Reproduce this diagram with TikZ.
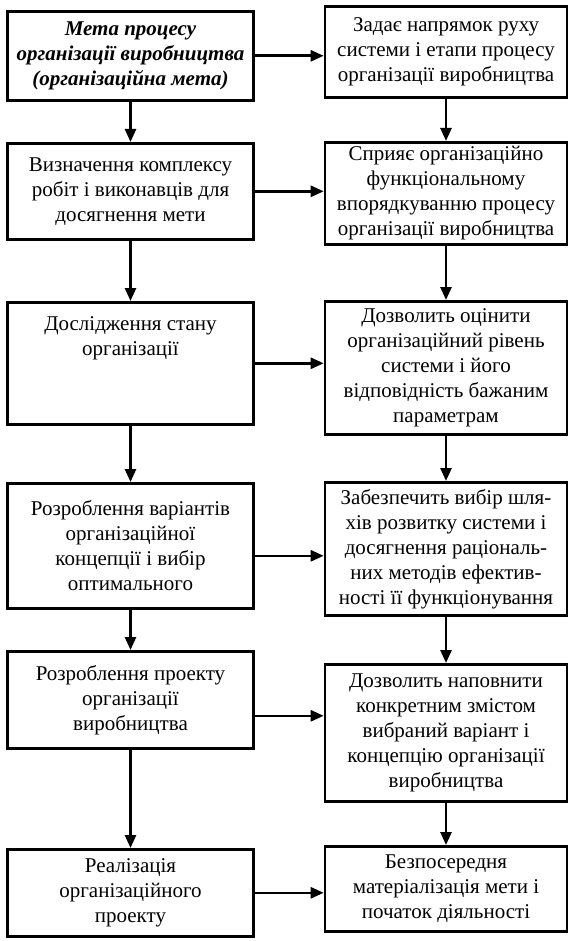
\documentclass[tikz,border=0pt]{standalone}
\usepackage{fontspec}
\setmainfont{Liberation Serif}
\usetikzlibrary{arrows.meta}
\def\boxfont{\fontsize{21}{25}\selectfont}
\begin{document}
\begin{tikzpicture}[x=1pt,y=-1pt,
    stagebox/.style={draw,line width=2.6pt,align=center,anchor=north,inner sep=3pt,font=\boxfont},
    leftbox/.style={stagebox,minimum width=246pt},
    rightbox/.style={stagebox,minimum width=242pt},
    link/.style={line width=2.6pt,-{Triangle[length=13pt,width=11pt]}}]

    \useasboundingbox (0,0) rectangle (588,941);

    %left column:
    \node[leftbox,minimum height=89pt,font=\boxfont\bfseries\itshape] (L1) at (130.5,10)
        {Мета процесу\\організації виробництва\\(організаційна мета)};
    \node[leftbox,minimum height=96pt] (L2) at (130.5,142)
        {Визначення комплексу\\робіт і виконавців для\\досягнення мети};
    \node[leftbox,minimum height=122pt,text depth=55pt] (L3) at (130.5,301)
        {Дослідження стану\\організації};
    \node[leftbox,minimum height=125pt] (L4) at (130.5,482)
        {Розроблення варіантів\\організаційної\\концепції і вибір\\оптимального};
    \node[leftbox,minimum height=97pt] (L5) at (130.5,650)
        {Розроблення проекту\\організації\\виробництва};
    \node[leftbox,minimum height=87pt] (L6) at (130.5,848)
        {Реалізація\\організаційного\\проекту};

    %right column:
    \node[rightbox,minimum height=91pt] (R1) at (446,5)
        {Задає напрямок руху\\системи і етапи процесу\\організації виробництва};
    \node[rightbox,minimum height=102pt] (R2) at (446,141)
        {Сприяє організаційно\\функціональному\\впорядкуванню процесу\\організації виробництва};
    \node[rightbox,minimum height=133pt] (R3) at (446,300)
        {Дозволить оцінити\\організаційний рівень\\системи і його\\відповідність бажаним\\параметрам};
    \node[rightbox,minimum height=133pt] (R4) at (446,481)
        {Забезпечить вибір шля-\\хів розвитку системи і\\досягнення раціональ-\\них методів ефектив-\\ності її функціонування};
    \node[rightbox,minimum height=137pt] (R5) at (446,663)
        {Дозволить наповнити\\конкретним змістом\\вибраний варіант і\\концепцію організації\\виробництва};
    \node[rightbox,minimum height=85pt] (R6) at (446,845)
        {Безпосередня\\матеріалізація мети і\\початок діяльності};

    %draw arrows down:
    \foreach \a/\b in {L1/L2,L2/L3,L3/L4,L4/L5,L5/L6,R1/R2,R2/R3,R3/R4,R4/R5,R5/R6}
        \draw[link] (\a.south) -- (\a.south |- \b.north);

    %draw arrows across:
    \foreach \a/\b/\s in {L1/R1/0,L2/R2/0,L3/R3/0,L4/R4/-10,L5/R5/-16,L6/R6/0}
        \draw[link] ([yshift=\s pt]\a.east) -- ([yshift=\s pt]\a.east -| \b.west);

\end{tikzpicture}
\end{document}
